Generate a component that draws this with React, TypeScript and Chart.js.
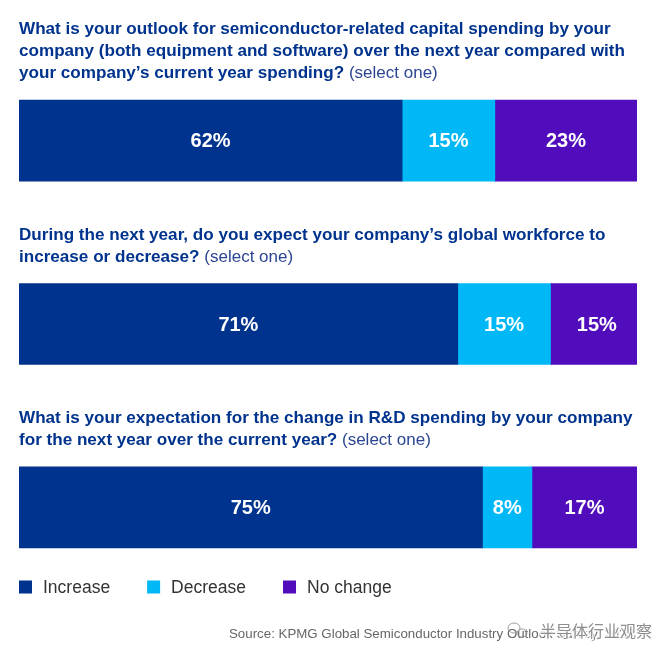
import { useEffect, useRef } from "react";
import { Chart, registerables } from "chart.js";

Chart.register(...registerables);

// Survey answers (percent of respondents) per question
const questions = ["Capital spending", "Global workforce", "R&D spending"];
const increase = [62, 71, 75];
const decrease = [15, 15, 8];
const noChange = [23, 15, 17];
const seriesNames = ["Increase", "Decrease", "No change"];
const seriesColors = ["#00338D", "#00B8F5", "#510DBC"];

const questionLines = [
  [
    "What is your outlook for semiconductor-related capital spending by your",
    "company (both equipment and software) over the next year compared with",
    "your company’s current year spending?",
  ],
  [
    "During the next year, do you expect your company’s global workforce to",
    "increase or decrease?",
  ],
  [
    "What is your expectation for the change in R&D spending by your company",
    "for the next year over the current year?",
  ],
];
const questionNote = "(select one)";
const sourceNote = "Source: KPMG Global Semiconductor Industry Outlook Survey, 2023";
const watermark = "半导体行业观察";

const BAR = 81;
const TITLE_COLOR = "#00338D";
const FONT = "'Liberation Sans', Arial, sans-serif";

// Question headings above each bar
const questionTitles = {
  id: "questionTitles",
  afterDraw(chart: any) {
    const { ctx, chartArea, scales } = chart;
    ctx.save();
    ctx.textBaseline = "alphabetic";
    ctx.textAlign = "left";
    questionLines.forEach((lines, i) => {
      const top = scales.y.getPixelForValue(i) - BAR / 2;
      const lastBase = top - 22;
      lines.forEach((line, j) => {
        const base = lastBase - (lines.length - 1 - j) * 22;
        ctx.font = `bold 17.1px ${FONT}`;
        ctx.fillStyle = TITLE_COLOR;
        ctx.fillText(line, chartArea.left, base);
        if (j === lines.length - 1) {
          const w = ctx.measureText(line + " ").width;
          ctx.font = `17px ${FONT}`;
          ctx.fillStyle = "#2B4593";
          ctx.fillText(questionNote, chartArea.left + w, base);
        }
      });
    });
    ctx.restore();
  },
};

// Percent labels centred in each segment
const segmentLabels = {
  id: "segmentLabels",
  afterDatasetsDraw(chart: any) {
    const { ctx } = chart;
    ctx.save();
    ctx.font = `bold 20px ${FONT}`;
    ctx.fillStyle = "#FFFFFF";
    ctx.textAlign = "center";
    ctx.textBaseline = "middle";
    chart.data.datasets.forEach((ds: any, di: number) => {
      const meta = chart.getDatasetMeta(di);
      meta.data.forEach((el: any, i: number) => {
        const cx = (el.x + el.base) / 2;
        ctx.fillText(`${ds.data[i]}%`, cx, el.y + 1);
      });
    });
    ctx.restore();
  },
};

// Legend row, source line and watermark under the bars
const footer = {
  id: "footer",
  afterDraw(chart: any) {
    const { ctx, chartArea } = chart;
    ctx.save();
    const cy = chartArea.bottom - 12;
    let x = chartArea.left;
    ctx.font = `17.5px ${FONT}`;
    ctx.textBaseline = "middle";
    ctx.textAlign = "left";
    chart.data.datasets.forEach((ds: any) => {
      ctx.fillStyle = ds.backgroundColor;
      ctx.fillRect(x, cy - 6.5, 13, 13);
      x += 24;
      ctx.fillStyle = "#333333";
      ctx.fillText(ds.label, x, cy + 1);
      x += ctx.measureText(ds.label).width + 37;
    });

    ctx.font = `13.3px ${FONT}`;
    ctx.fillStyle = "#666666";
    ctx.textBaseline = "alphabetic";
    ctx.fillText(sourceNote, 229, 638);

    // watermark
    ctx.font = `16px 'Noto Sans CJK SC', sans-serif`;
    ctx.textBaseline = "middle";
    ctx.lineWidth = 3;
    ctx.strokeStyle = "rgba(255,255,255,0.85)";
    ctx.strokeText(watermark, 540, 631);
    ctx.fillStyle = "rgba(130,130,130,0.9)";
    ctx.fillText(watermark, 540, 631);
    ctx.strokeStyle = "rgba(150,150,150,0.9)";
    ctx.lineWidth = 1;
    ctx.beginPath();
    ctx.ellipse(514, 628, 6, 5, 0, 0, Math.PI * 2);
    ctx.stroke();
    ctx.beginPath();
    ctx.ellipse(522, 633, 5, 4, 0, 0, Math.PI * 2);
    ctx.stroke();
    ctx.restore();
  },
};

export default function App() {
  const ref = useRef<HTMLCanvasElement | null>(null);

  useEffect(() => {
    if (!ref.current) return;
    const chart = new Chart(ref.current, {
      type: "bar",
      data: {
        labels: questions,
        datasets: [increase, decrease, noChange].map((d, k) => ({
          label: seriesNames[k],
          data: d,
          backgroundColor: seriesColors[k],
          borderWidth: 0,
          barThickness: BAR,
        })),
      },
      options: {
        indexAxis: "y",
        responsive: false,
        animation: false,
        layout: { padding: { left: 19, right: 23, top: 49, bottom: 54 } },
        scales: {
          x: { stacked: true, min: 0, max: 100, display: false },
          y: { stacked: true, display: false },
        },
        plugins: {
          legend: { display: false },
          tooltip: { enabled: false },
        },
      },
      plugins: [segmentLabels, questionTitles, footer],
    });
    return () => chart.destroy();
  }, []);

  return (
    <div style={{ width: 660, height: 653, background: "#fff" }}>
      <style>{"body{margin:0;background:#fff}"}</style>
      <canvas ref={ref} width={660} height={653} style={{ display: "block" }} />
    </div>
  );
}
